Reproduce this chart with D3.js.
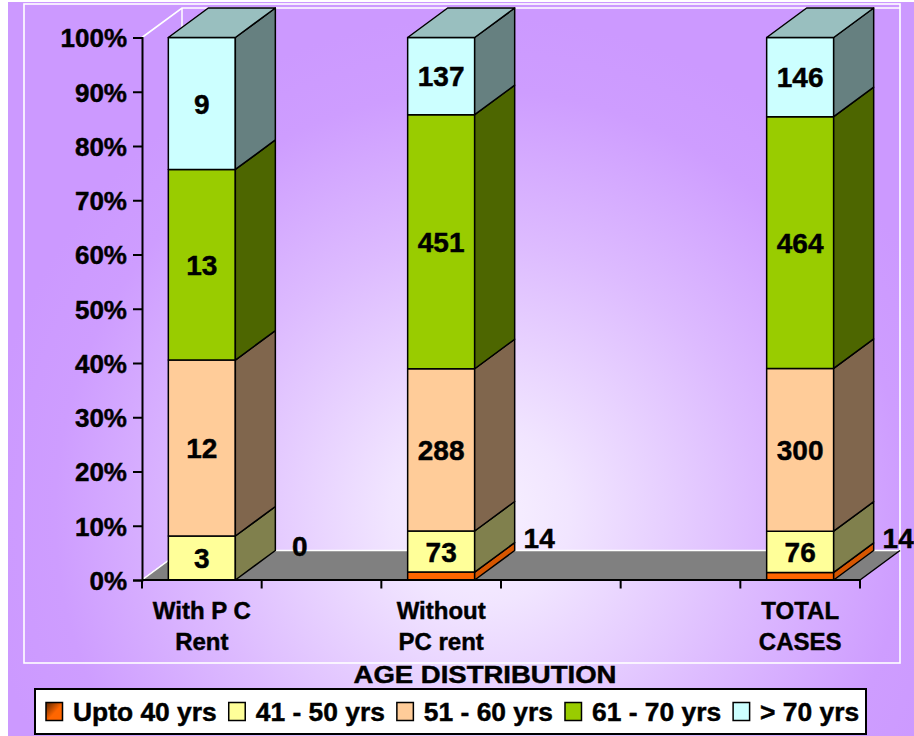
<!DOCTYPE html>
<html>
<head>
<meta charset="utf-8">
<script src="https://cdn.jsdelivr.net/npm/d3@7/dist/d3.min.js"></script>
<style>
  html, body { margin: 0; padding: 0; background: #ffffff; }
  svg { display: block; }
  text { font-family: "Liberation Sans", Arial, sans-serif; font-weight: bold; fill: #000; stroke: #000; stroke-width: 0.45px; }
</style>
</head>
<body>
<svg id="chart" width="914" height="736"></svg>
<script>
// Age distribution of cases, by rent group (counts per age band)
const categories = ["With P C|Rent", "", "Without|PC rent", "", "", "TOTAL|CASES"];
const seriesNames = ["Upto 40 yrs", "41 - 50 yrs", "51 - 60 yrs", "61 - 70 yrs", "> 70 yrs"];
const upto40   = [0,  null, 14,  null, null, 14];
const age41_50 = [3,  null, 73,  null, null, 76];
const age51_60 = [12, null, 288, null, null, 300];
const age61_70 = [13, null, 451, null, null, 464];
const over70   = [9,  null, 137, null, null, 146];
const yTickValues = [0, 0.1, 0.2, 0.3, 0.4, 0.5, 0.6, 0.7, 0.8, 0.9, 1];
const axisTitle = "AGE DISTRIBUTION";

const seriesValues = [upto40, age41_50, age51_60, age61_70, over70];
const frontColors = ["#FF6600", "#FFFF99", "#FFCC99", "#99CC00", "#CCFFFF"];
const sideShade = [0.84, 0.5, 0.5, 0.5, 0.5];
const topShade = 0.75;

function shade(hex, k) {
  const c = d3.rgb(hex);
  return d3.rgb(c.r * k, c.g * k, c.b * k).formatHex();
}

const svg = d3.select("#chart");
const W = 914, H = 736;

// geometry of the oblique 3D box
const plot = { left: 142, right: 860, bottom: 580, top: 37.5 };
const depth = { dx: 40, dy: -29.5 };

const defs = svg.append("defs");
const bg = defs.append("radialGradient")
  .attr("id", "bgGrad").attr("gradientUnits", "userSpaceOnUse")
  .attr("cx", 480).attr("cy", 515).attr("r", 500);
bg.append("stop").attr("offset", 0).attr("stop-color", "#F8F2FF");
bg.append("stop").attr("offset", 0.18).attr("stop-color", "#F1E5FF");
bg.append("stop").attr("offset", 0.55).attr("stop-color", "#DDBBFF");
bg.append("stop").attr("offset", 0.85).attr("stop-color", "#CE9DFF");
bg.append("stop").attr("offset", 1).attr("stop-color", "#CC99FF");

const swGrad = defs.append("linearGradient").attr("id", "swatch0")
  .attr("x1", 0).attr("y1", 0).attr("x2", 1).attr("y2", 1);
swGrad.append("stop").attr("offset", 0).attr("stop-color", "#5A2400");
swGrad.append("stop").attr("offset", 0.55).attr("stop-color", "#FF6600");
swGrad.append("stop").attr("offset", 1).attr("stop-color", "#FF6600");

// chart background
svg.append("rect").attr("x", 8).attr("y", 2).attr("width", W - 8).attr("height", H - 2)
  .attr("fill", "url(#bgGrad)");

// plot area border
svg.append("rect").attr("x", 24).attr("y", 4).attr("width", 876).attr("height", 659)
  .attr("fill", "none").attr("stroke", "#ffffff").attr("stroke-width", 1.6);

// scales
const x = d3.scaleBand().domain(d3.range(categories.length))
  .range([plot.left, plot.right]).paddingInner(0).paddingOuter(0);
const y = d3.scaleLinear().domain([0, 1]).range([plot.bottom, plot.top]);
const barW = x.bandwidth() * 0.56;

const pts = a => a.map(p => p.join(",")).join(" ");
const dx = depth.dx, dy = depth.dy;

// walls (no fill, white edges)
const g3d = svg.append("g");
g3d.append("polyline")
  .attr("points", pts([[plot.left, y(0)], [plot.left + dx, y(0) + dy]]))
  .attr("stroke", "#fff").attr("stroke-width", 1.5).attr("fill", "none");
g3d.append("polyline")
  .attr("points", pts([[plot.left, y(1)], [plot.left + dx, y(1) + dy], [plot.right + dx, y(1) + dy]]))
  .attr("stroke", "#fff").attr("stroke-width", 1.6).attr("fill", "none");
g3d.append("line")
  .attr("x1", plot.left + dx).attr("y1", y(1) + dy).attr("x2", plot.left + dx).attr("y2", y(0) + dy)
  .attr("stroke", "#fff").attr("stroke-width", 1.5);

// floor
g3d.append("polygon")
  .attr("points", pts([[plot.left, y(0)], [plot.right, y(0)], [plot.right + dx, y(0) + dy], [plot.left + dx, y(0) + dy]]))
  .attr("fill", "#808080");
g3d.append("line")
  .attr("x1", plot.left + dx).attr("y1", y(0) + dy).attr("x2", plot.right + dx).attr("y2", y(0) + dy)
  .attr("stroke", "#ffffff").attr("stroke-width", 1.5);
g3d.append("line")
  .attr("x1", plot.left).attr("y1", y(0)).attr("x2", plot.left + dx).attr("y2", y(0) + dy)
  .attr("stroke", "#ffffff").attr("stroke-width", 1.5);
g3d.append("line")
  .attr("x1", plot.right).attr("y1", y(0)).attr("x2", plot.right + dx).attr("y2", y(0) + dy)
  .attr("stroke", "#000").attr("stroke-width", 1.5);

// stacked (100%) data
const keys = seriesNames.map((_, k) => k);
const rows = categories.map((c, i) => {
  const r = { i };
  keys.forEach(k => { r[k] = seriesValues[k][i]; });
  return r;
}).filter(r => keys.every(k => r[k] !== null));
const stacked = d3.stack().keys(keys).offset(d3.stackOffsetExpand)(rows);

// bars
const barsG = svg.append("g");
rows.forEach((row, ri) => {
  const x0 = x(row.i) + (x.bandwidth() - barW) / 2;
  const x1 = x0 + barW;
  const g = barsG.append("g");
  stacked.forEach((layer, k) => {
    const seg = layer[ri];
    const yb = y(seg[0]), yt = y(seg[1]);
    if (seg[1] - seg[0] <= 0) return;
    g.append("polygon")
      .attr("points", pts([[x0, yb], [x1, yb], [x1, yt], [x0, yt]]))
      .attr("fill", frontColors[k]).attr("stroke", "#000").attr("stroke-width", 1.5)
      .attr("stroke-linejoin", "round");
    g.append("polygon")
      .attr("points", pts([[x1, yb], [x1 + dx, yb + dy], [x1 + dx, yt + dy], [x1, yt]]))
      .attr("fill", shade(frontColors[k], sideShade[k])).attr("stroke", "#000").attr("stroke-width", 1.5)
      .attr("stroke-linejoin", "round");
  });
  const topLayer = stacked.length - 1;
  const yt = y(stacked[topLayer][ri][1]);
  g.append("polygon")
    .attr("points", pts([[x0, yt], [x1, yt], [x1 + dx, yt + dy], [x0 + dx, yt + dy]]))
    .attr("fill", shade(frontColors[topLayer], topShade)).attr("stroke", "#000").attr("stroke-width", 1.5)
    .attr("stroke-linejoin", "round");

  // value labels; the smallest band sits beside the bar on the floor
  stacked.forEach((layer, k) => {
    const seg = layer[ri];
    const v = row[k];
    if (k === 0) {
      g.append("text")
        .attr("x", x0 + barW / 2 + 98).attr("y", y(seg[1]) - 34).attr("dy", "0.36em")
        .attr("text-anchor", "middle").attr("font-size", 28).text(v);
    } else {
      g.append("text")
        .attr("x", x0 + barW / 2).attr("y", y((seg[0] + seg[1]) / 2)).attr("dy", "0.36em")
        .attr("text-anchor", "middle").attr("font-size", 28).text(v);
    }
  });
});

// y axis
const yAxis = d3.axisLeft(y).tickValues(yTickValues).tickFormat(d3.format(".0%"))
  .tickSize(9).tickPadding(6);
const yg = svg.append("g").attr("transform", `translate(${plot.left},0)`).call(yAxis);
yg.select(".domain").attr("stroke", "#000").attr("stroke-width", 2);
yg.selectAll(".tick line").attr("stroke", "#000").attr("stroke-width", 2);
yg.selectAll(".tick text").attr("font-size", 26).attr("font-family", null)
  .attr("dy", "0.36em").attr("x", -15);

// x axis (category boundaries get ticks)
const xg = svg.append("g");
xg.append("line").attr("x1", plot.left).attr("x2", plot.right)
  .attr("y1", y(0)).attr("y2", y(0)).attr("stroke", "#000").attr("stroke-width", 2.2);
const boundaries = x.domain().map(i => x(i)).concat([x(x.domain().length - 1) + x.bandwidth()]);
xg.selectAll("line.tk").data(boundaries).join("line").attr("class", "tk")
  .attr("x1", d => d).attr("x2", d => d).attr("y1", y(0)).attr("y2", y(0) + 8.5)
  .attr("stroke", "#000").attr("stroke-width", 2);
categories.forEach((c, i) => {
  if (!c) return;
  const t = xg.append("text").attr("text-anchor", "middle").attr("font-size", 24)
    .attr("x", x(i) + x.bandwidth() / 2);
  c.split("|").forEach((line, li) => {
    t.append("tspan").attr("x", x(i) + x.bandwidth() / 2).attr("y", 619.3 + li * 30.7).text(line);
  });
});

// axis title
svg.append("text").attr("x", 485).attr("y", 683.3).attr("text-anchor", "middle")
  .attr("font-size", 24).attr("textLength", 263).attr("lengthAdjust", "spacingAndGlyphs")
  .text(axisTitle);

// legend
const lg = svg.append("g");
lg.append("rect").attr("x", 35).attr("y", 689).attr("width", 831).attr("height", 45)
  .attr("fill", "#fff").attr("stroke", "#000").attr("stroke-width", 2);
let lx = 46;
seriesNames.forEach((name, k) => {
  lg.append("rect").attr("x", lx).attr("y", 702.5).attr("width", 16.5).attr("height", 18)
    .attr("fill", k === 0 ? "url(#swatch0)" : frontColors[k]).attr("stroke", "#000").attr("stroke-width", 1.5);
  const t = lg.append("text").attr("x", lx + 27).attr("y", 720.5).attr("font-size", 26.4).text(name);
  lx = lx + 27 + t.node().getComputedTextLength() + 12;
});
</script>
</body>
</html>
